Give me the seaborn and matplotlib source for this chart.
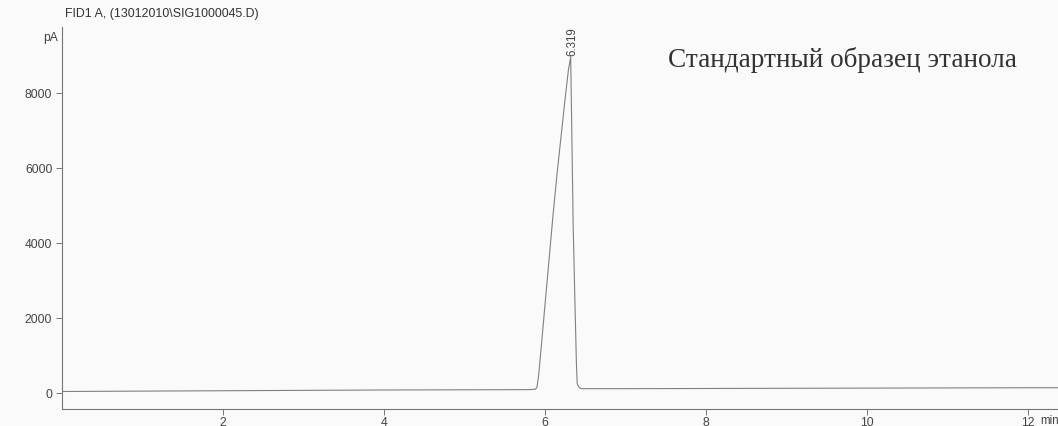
import matplotlib
matplotlib.use("Agg")
import matplotlib.pyplot as plt
from matplotlib.ticker import MultipleLocator
import seaborn as sns
import pandas as pd

# ---- data ----
time_min = [0.0, 1.0, 2.0, 3.0, 4.0, 5.0, 5.80, 5.88, 5.90, 5.92, 5.95, 6.00,
            6.05, 6.10, 6.15, 6.20, 6.25, 6.29, 6.319, 6.33, 6.35, 6.37, 6.39,
            6.40, 6.42, 6.45, 7.0, 8.0, 9.0, 10.0, 11.0, 12.0, 12.4]
signal_pA = [40, 50, 60, 70, 80, 85, 90, 100, 150, 450, 1150, 2350,
             3550, 4750, 5850, 6850, 7850, 8600, 8960, 7400, 4450, 2600, 800,
             250, 160, 115, 115, 120, 125, 130, 135, 140, 140]
peak_rt = [6.319]
peak_height = [8960]
peak_labels = ["6.319"]
y_ticks = [0, 2000, 4000, 6000, 8000]
x_ticks = [2, 4, 6, 8, 10, 12]
title_text = "FID1 A, (13012010\\SIG1000045.D)"
annotation_text = "Стандартный образец этанола"
y_unit = "pA"
x_unit = "min"

df = pd.DataFrame({"time": time_min, "signal": signal_pA})

sns.set_style("white")
plt.rcParams["font.family"] = ["Liberation Sans", "DejaVu Sans"]

W, H = 1058, 427
fig = plt.figure(figsize=(W / 100, H / 100), dpi=100, facecolor="#fafafa")
ax = fig.add_axes([62 / W, (H - 410) / H, 1 - 62 / W, (410 - 28) / H])
ax.set_facecolor("#fafafa")

sns.lineplot(data=df, x="time", y="signal", ax=ax, color="#808080",
             linewidth=0.8, sort=False, estimator=None)

ax.set_xlim(0, (W - 62) / 80.5)
ax.set_ylim(-427, 9760)
ax.set_xlabel("")
ax.set_ylabel("")

for s in ["top", "right"]:
    ax.spines[s].set_visible(False)
for s in ["left", "bottom"]:
    ax.spines[s].set_color("#777777")
    ax.spines[s].set_linewidth(0.8)

ax.set_xticks(x_ticks)
ax.set_yticks(y_ticks)
ax.xaxis.set_minor_locator(MultipleLocator(0.5))
ax.yaxis.set_minor_locator(MultipleLocator(500))
ax.tick_params(axis="both", which="major", direction="out", length=4,
               width=0.7, color="#777777", labelsize=8.7, labelcolor="#444444")
ax.tick_params(axis="both", which="minor", direction="out", length=2.5,
               width=0.6, color="#888888")
ax.tick_params(axis="x", which="major", pad=1)
ax.tick_params(axis="y", which="major", pad=3)
ax.tick_params(bottom=True, left=True)

for rt, h, lab in zip(peak_rt, peak_height, peak_labels):
    ax.text(rt + 0.02, h + 60, lab, rotation=90, ha="center", va="bottom",
            fontsize=8.3, color="#444444")

fig.text(65 / W, (H - 14) / H, title_text, fontsize=8.9, color="#333333",
         ha="left", va="center")
fig.text(58 / W, (H - 38) / H, y_unit, fontsize=8.7, color="#444444",
         ha="right", va="center")
fig.text(1040 / W, (H - 421) / H, x_unit, fontsize=8.3, color="#444444",
         ha="left", va="center")
fig.text(668 / W, (H - 60) / H, annotation_text, fontsize=19.6,
         family=["Liberation Serif", "DejaVu Serif"], color="#333333",
         ha="left", va="center")

fig.savefig("out.png", dpi=100, facecolor=fig.get_facecolor())
